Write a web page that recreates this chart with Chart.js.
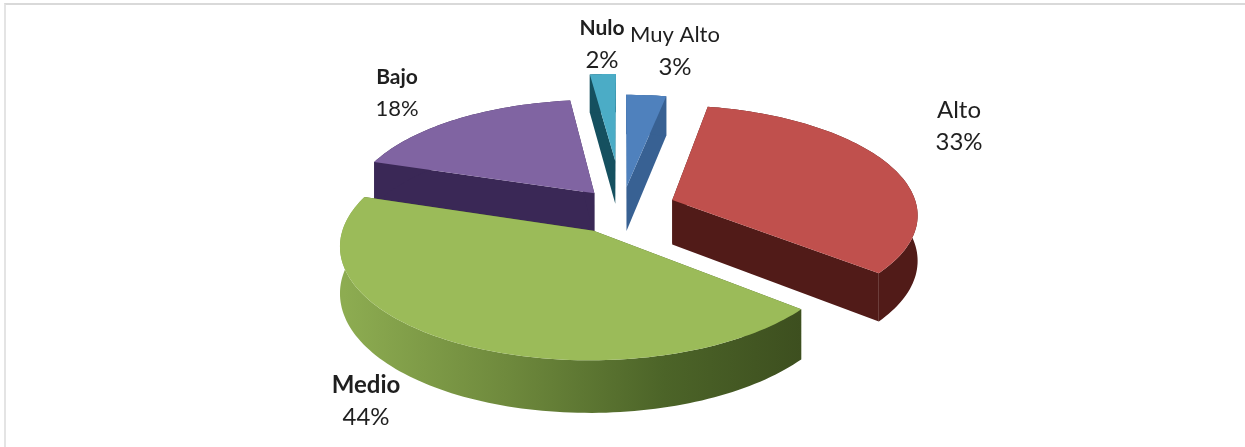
<!DOCTYPE html>
<html>
<head>
<meta charset="utf-8">
<style>
  html, body { margin: 0; padding: 0; background: #fff; }
  #wrap { position: relative; width: 1245px; height: 447px; overflow: hidden; }
  #frame { position: absolute; left: 4px; top: 3px; right: -5px; bottom: -5px; border-top: 2px solid #d9d9d9; border-left: 2px solid #e4e4e4; }
  canvas { position: absolute; left: 0; top: 0; filter: blur(0.4px); }
</style>
</head>
<body>
<div id="wrap">
  <div id="frame"></div>
  <canvas id="pieChart" width="1245" height="447"></canvas>
</div>
<script src="https://cdn.jsdelivr.net/npm/chart.js@4"></script>
<script>
const categories = ['Muy Alto', 'Alto', 'Medio', 'Bajo', 'Nulo'];
const percents = [3, 33, 44, 18, 2];
const topColors = ['#4f81bd', '#c0504d', '#9bbb59', '#8064a2', '#4bacc6'];
const wallColors = ['#386193', '#511b18', '#4c6428', '#3a2856', '#15505f'];
// how far each slice is pulled out, in percent of the radius
const explode = [20, 22, 23.5, 18, 46];
// label text: centre of the two lines, font sizes, weight of the name
const labelCenters = [[675, 51], [959, 126], [366, 401], [397, 93], [602, 44]];
const nameSizes = [22, 24, 24, 21, 21];
const percentSizes = [24, 24, 24, 22, 24];
const labelWeights = ['normal', 'normal', 'bold', 'bold', 'bold'];
// slices are painted back to front
const paintOrder = [4, 0, 3, 1, 2];

// fake 3d view of the pie plane
const view = { cx: 622, cy: 208, sx: 245, sy: 108, p: -0.12, depth: 45 };

function project(x, y, lift) {
  const w = 1 + view.p * y;
  return {
    x: view.cx + view.sx * x / w,
    y: view.cy + view.sy * y / w + (lift ? view.depth / w : 0)
  };
}

function fillPoly(ctx, pts, color) {
  ctx.beginPath();
  pts.forEach((p, i) => i ? ctx.lineTo(p.x, p.y) : ctx.moveTo(p.x, p.y));
  ctx.closePath();
  ctx.fillStyle = color;
  ctx.fill();
}

function drawSlice(ctx, arc, index) {
  const mid = (arc.startAngle + arc.endAngle) / 2;
  const off = arc.options.offset / 100;
  const ox = Math.cos(mid) * off;
  const oy = Math.sin(mid) * off;

  const rim = [];
  const steps = Math.max(4, Math.ceil((arc.endAngle - arc.startAngle) * 40));
  for (let i = 0; i <= steps; i++) {
    const a = arc.startAngle + (arc.endAngle - arc.startAngle) * i / steps;
    rim.push([ox + Math.cos(a), oy + Math.sin(a)]);
  }

  const apex = [ox, oy];
  const up = p => project(p[0], p[1], false);
  const down = p => project(p[0], p[1], true);
  const wall = wallColors[index];

  // the two cut faces first, then the rim wall over them
  fillPoly(ctx, [up(apex), up(rim[0]), down(rim[0]), down(apex)], wall);
  fillPoly(ctx, [up(apex), up(rim[steps]), down(rim[steps]), down(apex)], wall);

  let rimFill = wall;
  if (categories[index] === 'Medio') {
    rimFill = ctx.createLinearGradient(up(rim[steps]).x - 20, 0, up(rim[0]).x, 0);
    rimFill.addColorStop(0, '#8dac51');
    rimFill.addColorStop(0.35, '#6f8a3d');
    rimFill.addColorStop(0.7, '#4c6428');
    rimFill.addColorStop(1, '#3d4f1f');
  }
  fillPoly(ctx, rim.map(up).concat(rim.slice().reverse().map(down)), rimFill);

  fillPoly(ctx, [up(apex)].concat(rim.map(up)), arc.options.backgroundColor);
}

const pie3d = {
  id: 'pie3d',
  beforeDatasetDraw(chart, args) {
    const ctx = chart.ctx;
    const arcs = chart.getDatasetMeta(args.index).data;
    ctx.save();
    paintOrder.forEach(i => drawSlice(ctx, arcs[i], i));
    ctx.restore();
    return false;
  },
  afterDraw(chart) {
    const ctx = chart.ctx;
    ctx.save();
    ctx.textAlign = 'center';
    ctx.textBaseline = 'middle';
    ctx.fillStyle = '#1f1f1f';
    categories.forEach((name, i) => {
      const [x, y] = labelCenters[i];
      ctx.font = labelWeights[i] + ' ' + nameSizes[i] + 'px Lato';
      ctx.fillText(name, x, y - 16);
      ctx.font = percentSizes[i] + 'px Lato';
      ctx.fillText(percents[i] + '%', x, y + 16);
    });
    ctx.restore();
  }
};

new Chart(document.getElementById('pieChart'), {
  type: 'pie',
  data: {
    labels: categories,
    datasets: [{
      data: percents,
      backgroundColor: topColors,
      offset: explode,
      borderWidth: 0
    }]
  },
  options: {
    responsive: false,
    animation: false,
    events: [],
    plugins: {
      legend: { display: false },
      tooltip: { enabled: false }
    }
  },
  plugins: [pie3d]
});
</script>
</body>
</html>
